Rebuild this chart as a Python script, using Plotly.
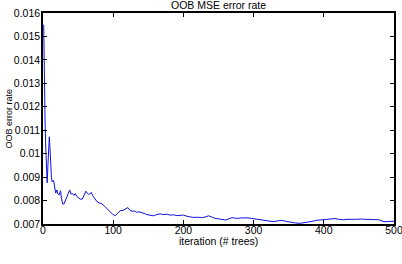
import plotly.graph_objects as go

iterations = [1, 2, 3, 4, 5, 6, 7, 8, 9, 10, 11, 12, 13, 15, 16, 18, 20, 21, 23, 25, 26, 28, 30, 32, 34, 36, 38, 40,
              42, 44, 46, 48, 50, 53, 56, 58, 61, 63, 65, 67, 69, 71, 74, 77, 80, 84, 88, 92, 95, 99, 103, 106,
              110, 114, 117, 121, 124, 127, 130, 133, 137, 141, 145, 148, 153, 157, 162, 167, 172, 176, 181, 186,
              191, 195, 200, 205, 210, 214, 220, 226, 231, 236, 241, 245, 250, 255, 260, 265, 269, 274, 278, 283,
              288, 292, 297, 302, 307, 312, 316, 322, 328, 334, 340, 345, 350, 355, 360, 366, 371, 376, 383, 390,
              397, 404, 410, 416, 422, 428, 433, 437, 445, 452, 460, 466, 472, 478, 482, 486, 490, 494, 497, 500]
oob_error = [0.01550, 0.01200, 0.01130, 0.01020, 0.00930, 0.00876, 0.00950, 0.01040, 0.01072, 0.01020, 0.00940,
             0.00900, 0.00880, 0.00886, 0.00870, 0.00832, 0.00845, 0.00828, 0.00824, 0.00842, 0.00815, 0.00785,
             0.00786, 0.00800, 0.00818, 0.00832, 0.00845, 0.00828, 0.00830, 0.00822, 0.00830, 0.00818, 0.00812,
             0.00806, 0.00806, 0.00820, 0.00840, 0.00832, 0.00826, 0.00830, 0.00834, 0.00820, 0.00806, 0.00795,
             0.00790, 0.00786, 0.00775, 0.00762, 0.00752, 0.00742, 0.00735, 0.00745, 0.00757, 0.00758, 0.00762,
             0.00770, 0.00758, 0.00754, 0.00756, 0.00750, 0.00752, 0.00749, 0.00744, 0.00740, 0.00738, 0.00735,
             0.00740, 0.00743, 0.00740, 0.00742, 0.00738, 0.00739, 0.00736, 0.00736, 0.00738, 0.00733, 0.00730,
             0.00728, 0.00729, 0.00727, 0.00730, 0.00735, 0.00729, 0.00724, 0.00722, 0.00720, 0.00717, 0.00722,
             0.00727, 0.00725, 0.00724, 0.00726, 0.00727, 0.00726, 0.00724, 0.00722, 0.00720, 0.00718, 0.00716,
             0.00713, 0.00710, 0.00713, 0.00716, 0.00712, 0.00709, 0.00706, 0.00704, 0.00703, 0.00705, 0.00707,
             0.00711, 0.00716, 0.00718, 0.00720, 0.00721, 0.00723, 0.00720, 0.00718, 0.00720, 0.00721, 0.00720,
             0.00721, 0.00719, 0.00720, 0.00719, 0.00718, 0.00714, 0.00710, 0.00710, 0.00710, 0.00711, 0.00712]

x_ticks = [0, 100, 200, 300, 400, 500]
y_ticks = [0.007, 0.008, 0.009, 0.010, 0.011, 0.012, 0.013, 0.014, 0.015, 0.016]
y_tick_labels = ["0.007", "0.008", "0.009", "0.01", "0.011", "0.012", "0.013", "0.014", "0.015", "0.016"]

FONT = "Liberation Sans, Arial, sans-serif"

fig = go.Figure()
fig.add_trace(go.Scatter(x=iterations, y=oob_error, mode="lines",
                         line=dict(color="#1010e0", width=1)))

axis_common = dict(ticks="inside", ticklen=4, tickcolor="black", showline=True, linecolor="black",
                   linewidth=1.5, mirror="ticks", showgrid=False, zeroline=False, automargin=False,
                   ticklabeloverflow="allow", tickfont=dict(size=10.5))

fig.update_layout(
    width=402, height=264,
    margin=dict(l=43, r=8, t=13, b=40),
    paper_bgcolor="white", plot_bgcolor="white",
    showlegend=False,
    font=dict(family=FONT, size=10, color="black"),
    xaxis=dict(range=[0, 500], tickvals=x_ticks, ticklabelstandoff=-4, **axis_common),
    yaxis=dict(range=[0.007, 0.016], tickvals=y_ticks, ticktext=y_tick_labels, ticklabelstandoff=-1,
               **axis_common),
    annotations=[
        dict(text="OOB MSE error rate", xref="paper", yref="paper", x=0.5, y=1.038,
             xanchor="center", yanchor="middle", showarrow=False, font=dict(size=10.5)),
        dict(text="iteration (# trees)", xref="paper", yref="paper", x=0.5, y=-0.081,
             xanchor="center", yanchor="middle", showarrow=False, font=dict(size=10.5)),
        dict(text="OOB error rate", xref="paper", yref="paper", x=-0.0997, y=0.5, textangle=-90,
             xanchor="center", yanchor="middle", showarrow=False, font=dict(size=9)),
    ],
)

fig.write_html("out.html")
